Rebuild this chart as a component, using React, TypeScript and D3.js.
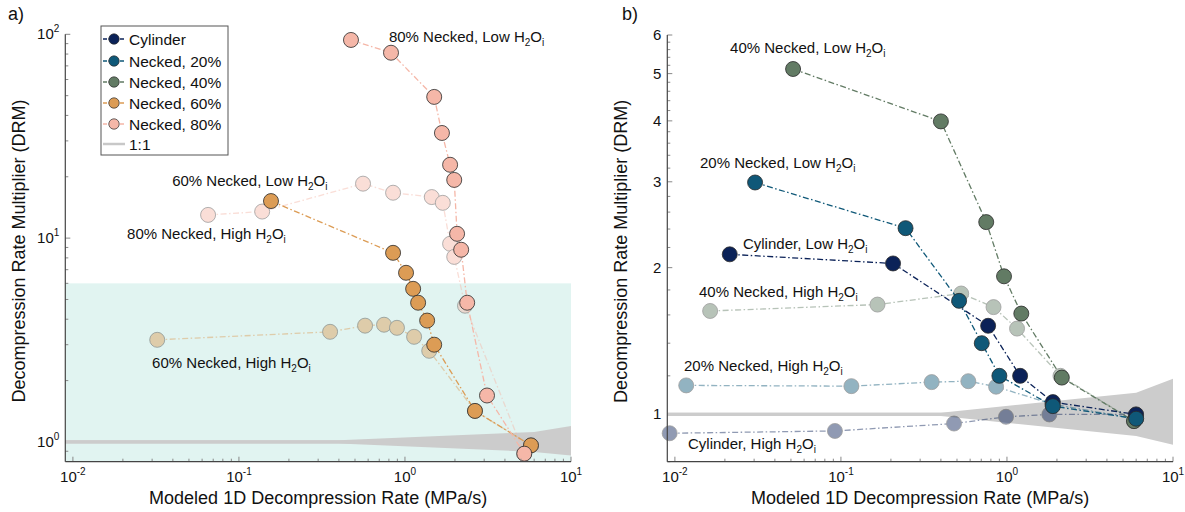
import React from 'react';
import * as d3 from 'd3';

// ---- panel a data (x = modeled 1D rate, y = DRM) ----
const aN80LowX = [0.473, 0.824, 1.5, 1.67, 1.87, 1.98, 2.06, 2.18, 2.37, 3.12, 5.23];
const aN80LowY = [93.8, 81.2, 49.3, 32.8, 22.9, 19.3, 10.5, 8.77, 4.82, 1.69, 0.876];
const aN80HighX = [0.0652, 0.138, 0.559, 0.848, 1.45, 1.69, 1.87, 1.98, 2.3, 5.23];
const aN80HighY = [13.0, 13.5, 18.5, 16.7, 15.9, 14.9, 9.38, 8.09, 4.66, 0.876];
const aN60LowX = [0.156, 0.848, 1.015, 1.12, 1.2, 1.36, 1.5, 2.64, 5.74];
const aN60LowY = [15.2, 8.47, 6.76, 5.64, 4.82, 3.94, 3.0, 1.42, 0.962];
const aN60HighX = [0.0322, 0.354, 0.575, 0.748, 0.895, 1.135, 1.4, 2.64, 5.74];
const aN60HighY = [3.17, 3.47, 3.72, 3.76, 3.63, 3.28, 2.8, 1.42, 0.962];

// ---- panel b data ----
const bCylLowX = [0.0214, 0.206, 0.77, 1.2, 1.89, 5.99];
const bCylLowY = [2.13, 2.04, 1.52, 1.2, 1.06, 1.0];
const bN20LowX = [0.0304, 0.245, 0.515, 0.705, 0.9, 1.89, 6.0];
const bN20LowY = [2.99, 2.41, 1.71, 1.4, 1.2, 1.04, 0.98];
const bN40LowX = [0.0515, 0.4, 0.75, 0.96, 1.22, 2.14, 5.82];
const bN40LowY = [5.11, 3.99, 2.48, 1.92, 1.61, 1.19, 0.969];
const bCylHighX = [0.0093, 0.092, 0.48, 0.987, 1.8, 5.99];
const bCylHighY = [0.915, 0.925, 0.958, 0.989, 1.0, 1.0];
const bN20HighX = [0.0117, 0.1156, 0.352, 0.585, 0.86, 1.87, 6.0];
const bN20HighY = [1.147, 1.143, 1.165, 1.17, 1.14, 1.05, 0.98];
const bN40HighX = [0.0163, 0.166, 0.53, 0.83, 1.15, 2.1, 5.82];
const bN40HighY = [1.63, 1.68, 1.77, 1.66, 1.5, 1.2, 0.969];

// 1:1 uncertainty cone
const coneX = [0.009, 0.4, 6, 10];
const coneHi = [1.0, 1.0, 1.1, 1.175];
const coneLo = [1.0, 1.0, 0.91, 0.873];
const shadeTop = 6; // panel a shaded region upper DRM

const legendNames = ['Cylinder', 'Necked, 20%', 'Necked, 40%', 'Necked, 60%', 'Necked, 80%'];

// annotations: [text before H2Oi, x, y] in data units
const aLabels: [string, number, number][] = [
  ['80% Necked, Low ', 0.8, 91.7],
  ['60% Necked, Low ', 0.0396, 18.05],
  ['80% Necked, High ', 0.0212, 9.92],
  ['60% Necked, High ', 0.03, 2.31],
];
const bLabels: [string, number, number][] = [
  ['40% Necked, Low ', 0.0215, 5.5],
  ['20% Necked, Low ', 0.01416, 3.2],
  ['Cylinder, Low ', 0.0257, 2.18],
  ['40% Necked, High ', 0.01397, 1.744],
  ['20% Necked, High ', 0.01135, 1.23],
  ['Cylinder, High ', 0.012, 0.85],
];

const C = {
  cyl: '#0b2258',
  n20: '#0f5878',
  n40: '#627b64',
  n60: '#dc9c55',
  n80: '#f5b7a8',
};
const legendColors = [C.cyl, C.n20, C.n40, C.n60, C.n80];

const FONT = '"Liberation Sans", Arial, Helvetica, sans-serif';
const DASH = '6,2.5,1.5,2.5';
const FADE = 0.45;

type S = { xs: number[]; ys: number[]; color: string; faded?: boolean };

const xA = d3.scaleLog().domain([0.009, 10]).range([65.3, 571]);
const yA = d3.scaleLog().domain([0.8, 100]).range([461.7, 34.3]);
const xB = d3.scaleLog().domain([0.009, 10]).range([667.3, 1173]);
const yB = d3.scaleLog().domain([0.8, 6]).range([461.7, 35]);

const isMajor = (v: number) => Math.abs(Math.log10(v) - Math.round(Math.log10(v))) < 1e-9;

function logTicks(dom: number[]) {
  const out: number[] = [];
  for (let e = -3; e <= 2; e++) {
    for (let k = 1; k <= 9; k++) {
      const v = +(k * Math.pow(10, e)).toPrecision(6);
      if (v > dom[0] * 1.001 && v <= dom[1] * 1.0001) out.push(v);
    }
  }
  return out;
}

function H2O({ head }: { head: string }) {
  return (
    <>
      {head}H
      <tspan dy={4} fontSize={10}>2</tspan>
      <tspan dy={-4}>O</tspan>
      <tspan dy={4} fontSize={10}>i</tspan>
    </>
  );
}

function Series({ s, x, y }: { s: S; x: any; y: any }) {
  const pts = s.xs.map((v, i) => [x(v), y(s.ys[i])] as [number, number]);
  const line = d3.line();
  return (
    <g opacity={s.faded ? FADE : 1}>
      <path d={line(pts) || ''} fill="none" stroke={s.color} strokeWidth={1.3} strokeDasharray={DASH} />
      {pts.map((p, i) => (
        <circle key={i} cx={p[0]} cy={p[1]} r={7.5} fill={s.color} stroke="#2a2a2a" strokeWidth={0.8} />
      ))}
    </g>
  );
}

function Cone({ x, y }: { x: any; y: any }) {
  const area = d3
    .area<number>()
    .x((d, i) => x(coneX[i]))
    .y0((d, i) => y(coneLo[i]) + 1.6)
    .y1((d, i) => y(coneHi[i]) - 1.6);
  return <path d={area(coneX) || ''} fill="#cccccc" />;
}

function XAxis({ x, yPix }: { x: any; yPix: number }) {
  const ticks = logTicks(x.domain());
  const r = x.range();
  return (
    <g>
      {ticks.map((t, i) => (
        <line key={i} x1={x(t)} x2={x(t)} y1={yPix} y2={yPix - (isMajor(t) ? 5 : 3)} stroke="#888" strokeWidth={1} />
      ))}
      <line x1={r[0]} x2={r[1]} y1={yPix} y2={yPix} stroke="#444" strokeWidth={1.2} />
      {ticks.filter(isMajor).map((t, i) => (
        <text key={i} x={x(t)} y={yPix + 20} textAnchor="middle" fontSize={15} fontFamily={FONT} fill="#111">
          10<tspan dy={-7} fontSize={10}>{Math.round(Math.log10(t))}</tspan>
        </text>
      ))}
    </g>
  );
}

function Panel({ x, y, yTicks, yMajor, yLabel, series, labels, tag, tagX }: any) {
  const xr = x.range();
  const yr = y.range();
  const midX = (xr[0] + xr[1]) / 2;
  const midY = (yr[0] + yr[1]) / 2;
  return (
    <g fontFamily={FONT}>
      {yTicks.map((t: number, i: number) => (
        <line key={i} x1={xr[0]} x2={xr[0] + (yMajor(t) ? 5 : 3)} y1={y(t)} y2={y(t)} stroke="#888" strokeWidth={1} />
      ))}
      <Cone x={x} y={y} />
      <line x1={xr[0]} x2={xr[1]} y1={y(1)} y2={y(1)} stroke="#cccccc" strokeWidth={3.2} />
      {series.filter((s: S) => s.faded).map((s: S, i: number) => <Series key={'f' + i} s={s} x={x} y={y} />)}
      {series.filter((s: S) => !s.faded).map((s: S, i: number) => <Series key={'s' + i} s={s} x={x} y={y} />)}
      <line x1={xr[0]} x2={xr[0]} y1={yr[0]} y2={yr[1]} stroke="#444" strokeWidth={1.2} />
      <XAxis x={x} yPix={yr[0]} />
      {yTicks.filter(yMajor).map((t: number, i: number) => (
        <text key={i} x={xr[0] - 6} y={y(t) + 5} textAnchor="end" fontSize={15} fill="#111">
          {yLabel(t)}
        </text>
      ))}
      {labels.map((l: [string, number, number], i: number) => (
        <text key={i} x={x(l[1])} y={y(l[2])} fontSize={15} fill="#111">
          <H2O head={l[0]} />
        </text>
      ))}
      <text x={midX} y={504} textAnchor="middle" fontSize={18} fill="#111">
        Modeled 1D Decompression Rate (MPa/s)
      </text>
      <text transform={`translate(${xr[0] - 40},${midY + 3}) rotate(-90)`} textAnchor="middle" fontSize={18} fill="#111">
        Decompression Rate Multiplier (DRM)
      </text>
      <text x={tagX} y={20} fontSize={18} fill="#111">{tag}</text>
    </g>
  );
}

function Legend() {
  const x0 = 101;
  const y0 = 26;
  const rows = [39, 61, 82, 103, 124];
  return (
    <g fontFamily={FONT}>
      <rect x={x0} y={y0} width={127} height={129} fill="#fff" stroke="#555" strokeWidth={1} />
      {legendNames.map((n, i) => (
        <g key={i}>
          <line x1={103} x2={125} y1={rows[i]} y2={rows[i]} stroke={legendColors[i]} strokeWidth={1.3} strokeDasharray="4,1.5,1.5,1.5" />
          <circle cx={114} cy={rows[i]} r={5.2} fill={legendColors[i]} stroke="#2a2a2a" strokeWidth={0.7} />
          <text x={129} y={rows[i] + 5.5} fontSize={15.5} fill="#111">{n}</text>
        </g>
      ))}
      <line x1={103} x2={125} y1={144} y2={144} stroke="#c8c8c8" strokeWidth={2.5} />
      <text x={129} y={149.5} fontSize={15.5} fill="#111">1:1</text>
    </g>
  );
}

export default function App() {
  const aSeries: S[] = [
    { xs: aN60HighX, ys: aN60HighY, color: C.n60, faded: true },
    { xs: aN80HighX, ys: aN80HighY, color: C.n80, faded: true },
    { xs: aN60LowX, ys: aN60LowY, color: C.n60 },
    { xs: aN80LowX, ys: aN80LowY, color: C.n80 },
  ];
  const bSeries: S[] = [
    { xs: bN40HighX, ys: bN40HighY, color: C.n40, faded: true },
    { xs: bN20HighX, ys: bN20HighY, color: C.n20, faded: true },
    { xs: bCylHighX, ys: bCylHighY, color: C.cyl, faded: true },
    { xs: bN40LowX, ys: bN40LowY, color: C.n40 },
    { xs: bCylLowX, ys: bCylLowY, color: C.cyl },
    { xs: bN20LowX, ys: bN20LowY, color: C.n20 },
  ];
  const aYTicks = logTicks(yA.domain());
  const bYTicks = d3.range(8, 61, 2).map((v) => v / 10);
  const bMajor = (v: number) => Math.abs(v - Math.round(v)) < 1e-9;

  return (
    <div style={{ position: 'absolute', left: 0, top: 0 }}>
      <svg width={1185} height={512} style={{ display: 'block', background: '#fff' }}>
        <rect x={xA(0.009)} y={yA(shadeTop)} width={xA(10) - xA(0.009)} height={yA(0.8) - yA(shadeTop)} fill="#e1f4f1" />
        <Panel
          x={xA}
          y={yA}
          yTicks={aYTicks}
          yMajor={isMajor}
          yLabel={(t: number) => (
            <>
              10<tspan dy={-7} fontSize={10}>{Math.round(Math.log10(t))}</tspan>
            </>
          )}
          series={aSeries}
          labels={aLabels}
          tag="a)"
          tagX={8}
        />
        <Legend />
        <Panel
          x={xB}
          y={yB}
          yTicks={bYTicks}
          yMajor={bMajor}
          yLabel={(t: number) => String(t)}
          series={bSeries}
          labels={bLabels}
          tag="b)"
          tagX={622}
        />
      </svg>
    </div>
  );
}
